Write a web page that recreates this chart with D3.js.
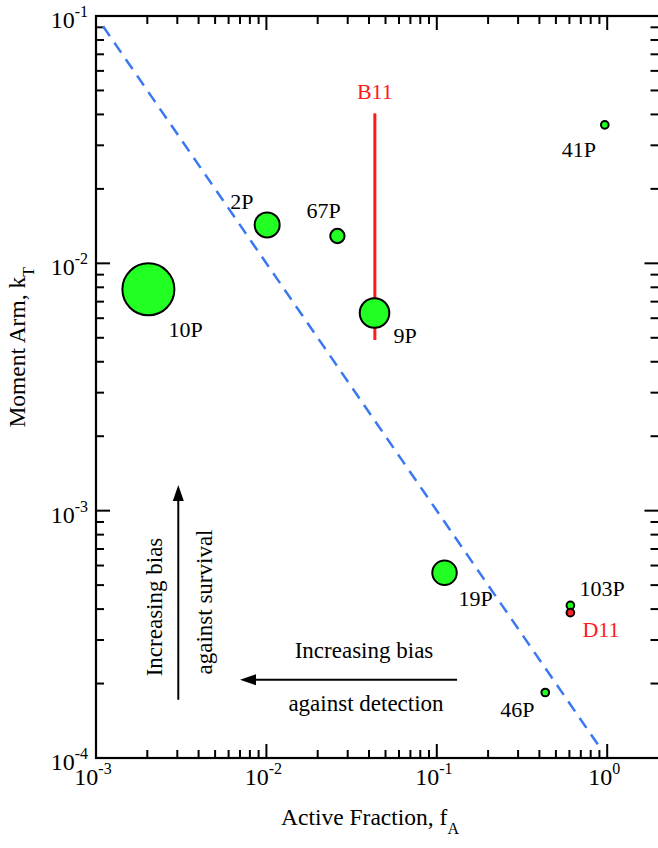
<!DOCTYPE html>
<html>
<head>
<meta charset="utf-8">
<script src="https://cdn.jsdelivr.net/npm/d3@7/dist/d3.min.js"></script>
<style>
  html, body { margin: 0; padding: 0; background: #fff; }
  svg, svg text { font-family: 'Liberation Serif', 'DejaVu Serif', serif; }
</style>
</head>
<body>
<svg id="chart" width="658" height="848" font-family="Liberation Serif, DejaVu Serif, serif"></svg>
<script>
// Comet nuclei: active fraction vs. moment arm
const names      = ["10P", "2P", "67P", "9P", "41P", "19P", "103P", "46P", "D11"];
const activeFrac = [0.00203, 0.0101, 0.0261, 0.0431, 0.968, 0.111, 0.608, 0.433, 0.608];
const momentArm  = [0.00785, 0.0143, 0.0129, 0.0063, 0.0363, 0.000561, 0.000414, 0.000184, 0.000387];
const radiusKm   = [5.3, 2.65, 1.6, 3.1, 0.95, 2.6, 0.95, 0.95, 0.95];
const isRed      = [false, false, false, false, false, false, false, false, true];

// B11 range bar
const b11Frac = 0.0433;
const b11Range = [0.0049, 0.0404];

// Reference line k_T = 1e-4 / f_A
const refCoef = 1e-4;
const refFracRange = [0.0011, 0.93];

// Axis ticks
const xMajor = [1e-3, 1e-2, 1e-1, 1e0];
const xMajorExp = ["-3", "-2", "-1", "0"];
const yMajor = [1e-1, 1e-2, 1e-3, 1e-4];
const yMajorExp = ["-1", "-2", "-3", "-4"];

const svg = d3.select("#chart");
const L = 96, R = 658.5, T = 16, B = 758;
const FONT = "Liberation Serif, DejaVu Serif, serif";

const x = d3.scaleLog().domain([1e-3, 2]).range([L, R]);
const y = d3.scaleLog().domain([1e-4, 1e-1]).range([B, T]);
const rScale = d3.scaleLinear().domain([0, 5.3]).range([0, 27]);

// Label placement (pixel offsets from marker centre)
const labelOffset = {
  "10P": [20, 48], "2P": [-37, -16], "67P": [-31, -18], "9P": [19, 30],
  "41P": [-43, 32], "19P": [14, 33], "103P": [9, -9], "46P": [-45, 24], "D11": [12, 24]
};

function txt(sel) { return sel.append("text").attr("font-family", FONT); }

// ---- frame and ticks ----
const isMajor = v => Math.abs(Math.log10(v) - Math.round(Math.log10(v))) < 1e-6;
const xTicks = x.ticks().filter(v => v < 1.999);
const yTicks = y.ticks();

const tickG = svg.append("g").attr("stroke", "#000").attr("stroke-width", 2);
xTicks.forEach(v => {
  const len = isMajor(v) ? 14 : 8;
  tickG.append("line").attr("x1", x(v)).attr("x2", x(v)).attr("y1", B).attr("y2", B - len);
  tickG.append("line").attr("x1", x(v)).attr("x2", x(v)).attr("y1", T).attr("y2", T + len);
});
yTicks.forEach(v => {
  const len = isMajor(v) ? 14 : 8;
  tickG.append("line").attr("y1", y(v)).attr("y2", y(v)).attr("x1", L).attr("x2", L + len);
  tickG.append("line").attr("y1", y(v)).attr("y2", y(v)).attr("x1", R).attr("x2", R - len);
});
// frame: right edge sits just past the visible area
svg.append("rect").attr("x", L).attr("y", T).attr("width", R - L + 2).attr("height", B - T)
  .attr("fill", "none").attr("stroke", "#000").attr("stroke-width", 2.2);

// tick labels with superscript exponents
function powLabel(sel, exp) {
  sel.append("tspan").attr("font-size", 24).text("10");
  sel.append("tspan").attr("font-size", 16).attr("dy", -11).text(exp);
}
xMajor.forEach((v, i) => {
  const t = txt(svg).attr("x", x(v) - 3).attr("y", 785).attr("text-anchor", "middle");
  powLabel(t, xMajorExp[i]);
});
yMajor.forEach((v, i) => {
  const t = txt(svg).attr("x", 88).attr("y", y(v) + 12).attr("text-anchor", "end");
  powLabel(t, yMajorExp[i]);
});

// axis titles
const xt = txt(svg).attr("x", 281).attr("y", 825).attr("font-size", 23.5);
xt.append("tspan").text("Active Fraction, f");
xt.append("tspan").attr("font-size", 16).attr("dy", 9).text("A");

const yt = txt(svg).attr("transform", "translate(25,267) rotate(-90)")
  .attr("text-anchor", "end").attr("font-size", 23.5);
yt.append("tspan").text("Moment Arm, k");
yt.append("tspan").attr("font-size", 16).attr("dy", 9).text("T");

// ---- reference dashed line ----
const refPts = d3.range(0, 21).map(i => {
  const lf = Math.log10(refFracRange[0]) + i / 20 * (Math.log10(refFracRange[1]) - Math.log10(refFracRange[0]));
  const f = Math.pow(10, lf);
  return [f, refCoef / f];
});
svg.append("path")
  .attr("d", d3.line().x(d => x(d[0])).y(d => y(d[1]))(refPts))
  .attr("fill", "none").attr("stroke", "#3a78f2").attr("stroke-width", 2.5)
  .attr("stroke-dasharray", "12,8");

// ---- B11 range bar ----
svg.append("line")
  .attr("x1", x(b11Frac)).attr("x2", x(b11Frac))
  .attr("y1", y(b11Range[1])).attr("y2", y(b11Range[0]))
  .attr("stroke", "#ff1a1a").attr("stroke-width", 3);
txt(svg).attr("x", x(b11Frac)).attr("y", y(b11Range[1]) - 14)
  .attr("text-anchor", "middle").attr("font-size", 22).attr("fill", "#ff1a1a").text("B11");

// ---- comet markers ----
const pts = names.map((n, i) => ({ n, f: activeFrac[i], k: momentArm[i], r: radiusKm[i], red: isRed[i] }));
svg.append("g").selectAll("circle").data(pts).join("circle")
  .attr("cx", d => x(d.f)).attr("cy", d => y(d.k)).attr("r", d => rScale(d.r) - 1)
  .attr("fill", d => d.red ? "#ff2020" : "#22ff22")
  .attr("stroke", "#000").attr("stroke-width", 2);

svg.append("g").selectAll("text").data(pts).join("text")
  .attr("font-family", FONT)
  .attr("x", d => x(d.f) + labelOffset[d.n][0])
  .attr("y", d => y(d.k) + labelOffset[d.n][1])
  .attr("font-size", 22)
  .attr("fill", d => d.red ? "#ff1a1a" : "#000")
  .text(d => d.n);

// ---- bias arrows ----
function arrow(x1, y1, x2, y2) {
  const a = Math.atan2(y2 - y1, x2 - x1), hl = 16, hw = 5.5;
  const bx = x2 - hl * Math.cos(a), by = y2 - hl * Math.sin(a);
  svg.append("line").attr("x1", x1).attr("y1", y1).attr("x2", bx).attr("y2", by)
    .attr("stroke", "#000").attr("stroke-width", 2);
  svg.append("path")
    .attr("d", `M${x2},${y2}L${bx - hw * Math.sin(a)},${by + hw * Math.cos(a)}L${bx + hw * Math.sin(a)},${by - hw * Math.cos(a)}Z`)
    .attr("fill", "#000");
}
// survival bias (vertical)
const vx = x(0.00304);
arrow(vx, y(1.72e-4), vx, y(1.27e-3));
txt(svg).attr("transform", `translate(162,607) rotate(-90)`)
  .attr("text-anchor", "middle").attr("font-size", 23).text("Increasing bias");
txt(svg).attr("transform", `translate(212,602) rotate(-90)`)
  .attr("text-anchor", "middle").attr("font-size", 23).text("against survival");
// detection bias (horizontal)
const hy = y(2.07e-4);
arrow(x(0.1315), hy, x(0.0070), hy);
txt(svg).attr("x", 364).attr("y", 658)
  .attr("text-anchor", "middle").attr("font-size", 23).text("Increasing bias");
txt(svg).attr("x", 366).attr("y", 711)
  .attr("text-anchor", "middle").attr("font-size", 23).text("against detection");
</script>
</body>
</html>
